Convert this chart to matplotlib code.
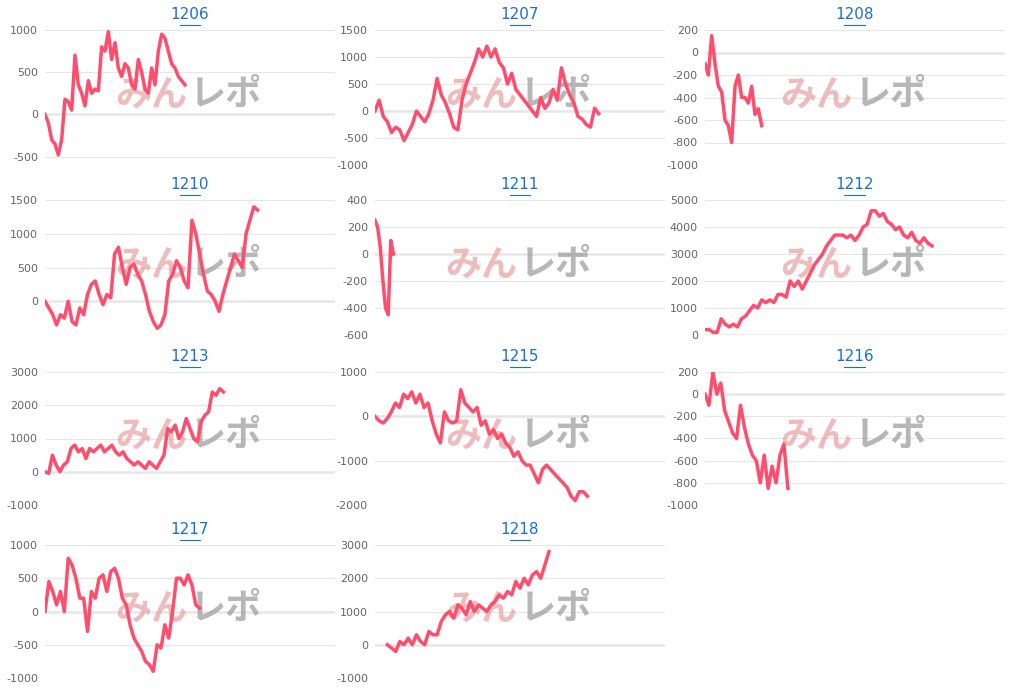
import matplotlib
matplotlib.use("Agg")
import matplotlib.pyplot as plt

plt.rcParams["axes.unicode_minus"] = False

# ==========================================================
# Data
# ==========================================================

titles = ["1206", "1207", "1208", "1210", "1211", "1212",
          "1213", "1215", "1216", "1217", "1218"]

s1206 = [0, -100, -300, -350, -480, -300, 180, 150, 50, 700, 350, 250, 100, 400, 250, 300, 280,
         800, 750, 980, 650, 850, 550, 450, 600, 550, 350, 300, 650, 500, 300, 250, 550, 350,
         750, 950, 900, 750, 600, 550, 450, 400, 350]
s1207 = [0, 200, -100, -200, -400, -300, -350, -550, -400, -250, 0, -100, -200, -50, 200, 600,
         300, 150, -50, -300, -350, 200, 500, 700, 900, 1150, 1000, 1200, 1000, 1150, 900, 800,
         500, 700, 400, 300, 200, 100, 0, -100, 250, 50, 150, 400, 200, 800, 500, 300, 150, -100,
         -150, -250, -300, 50, -50]
s1208 = [-100, -200, 150, -100, -300, -350, -600, -650, -800, -300, -200, -400, -400, -450,
         -300, -550, -500, -650]
s1210 = [0, -100, -200, -350, -200, -250, 0, -300, -350, -100, -200, 100, 250, 300, 100, -50,
         100, 50, 700, 800, 500, 250, 500, 550, 400, 300, 100, -150, -300, -400, -350, -200, 300,
         400, 600, 500, 300, 200, 1200, 1000, 700, 400, 150, 100, 0, -150, 100, 300, 500, 700,
         600, 500, 1000, 1200, 1400, 1350]
s1211 = [250, 200, 50, -200, -400, -450, 100, 0]
s1212 = [200, 200, 100, 100, 600, 400, 300, 400, 300, 600, 700, 900, 1100, 1000, 1300, 1200,
         1300, 1200, 1500, 1500, 1400, 2000, 1800, 2000, 1700, 2000, 2300, 2600, 2800, 3000, 3300,
         3500, 3700, 3700, 3700, 3600, 3700, 3500, 3700, 4000, 4100, 4600, 4600, 4400, 4500, 4200,
         4100, 3900, 4000, 3700, 3600, 3800, 3500, 3400, 3600, 3400, 3300]
s1213 = [0, -50, 500, 200, 0, 200, 300, 700, 800, 600, 700, 400, 700, 600, 700, 800, 600, 700,
         800, 600, 500, 600, 400, 300, 200, 300, 200, 100, 300, 200, 100, 300, 500, 1300, 1200,
         1400, 1000, 1200, 1600, 1300, 1000, 900, 1500, 1700, 1800, 2400, 2300, 2500, 2400]
s1215 = [0, -100, -150, -50, 100, 300, 200, 500, 400, 550, 300, 500, 200, 300, -100, -400, -600,
         100, -100, -150, -100, 600, 300, 200, 100, 200, -200, -100, -400, -300, -500, -400, -600,
         -700, -900, -800, -1000, -1100, -1100, -1300, -1500, -1200, -1100, -1200, -1300, -1400,
         -1500, -1600, -1800, -1900, -1700, -1700, -1800]
s1216 = [0, -100, 200, 0, 100, -150, -250, -350, -400, -100, -300, -450, -550, -600, -800, -550,
         -850, -650, -800, -550, -450, -850]
s1217 = [0, 450, 300, 100, 300, 0, 800, 700, 500, 200, 200, -300, 300, 200, 500, 550, 300, 600,
         650, 500, 200, 100, -200, -400, -500, -600, -750, -800, -900, -500, -550, -200, -400, 0,
         500, 500, 400, 550, 400, 100, 50]
s1218 = [0, -100, -200, 100, 0, 200, 0, 300, 100, 0, 400, 300, 300, 700, 900, 1000, 800, 1200,
         1100, 900, 1300, 1000, 1200, 1100, 1000, 1200, 1300, 1500, 1400, 1600, 1500, 1900, 1700,
         2000, 1800, 2100, 2200, 2000, 2400, 2800]

series = [s1206, s1207, s1208, s1210, s1211, s1212, s1213, s1215, s1216, s1217, s1218]

# y tick ranges (bottom, top, step) per panel
yticks = [(-500, 1000, 500), (-1000, 1500, 500), (-1000, 200, 200), (0, 1500, 500),
          (-600, 400, 200), (0, 5000, 1000), (-1000, 3000, 1000), (-2000, 1000, 1000),
          (-1000, 200, 200), (-1000, 1000, 500), (-1000, 3000, 1000)]
ylims = [(-600, 1000), (-1000, 1500), (-1000, 200), (-500, 1500), (-600, 400), (0, 5000),
         (-1000, 3000), (-2000, 1000), (-1000, 200), (-1000, 1000), (-1000, 3000)]
xlims = [87, 70, 90, 75, 110, 74, 78, 71, 76, 75, 70]
xstart = [0, 0, 0, 0, 0, 0, 0, 0, 0, 0, 3]

# ==========================================================
# Layout (pixel boxes of the reference)
# ==========================================================

W, H = 1012, 688
cols = [(45, 335), (375, 665), (705, 1005)]
rows = [(30, 165), (200, 335), (372, 505), (545, 678)]

fig = plt.figure(figsize=(W / 100, H / 100), dpi=100)

line_color = "#ff4d6d"
jp = ["Noto Sans CJK JP", "DejaVu Sans"]

for i, vals in enumerate(series):
    r, c = divmod(i, 3)
    x0, x1 = cols[c]
    y0, y1 = rows[r]
    ax = fig.add_axes([x0 / W, 1 - y1 / H, (x1 - x0) / W, (y1 - y0) / H])

    xs = [xstart[i] + k for k in range(len(vals))]
    ax.plot(xs, vals, color=line_color, lw=2.5, zorder=3)

    lo, hi, st = yticks[i]
    ax.set_yticks(range(lo, hi + 1, st))
    ax.set_ylim(*ylims[i])
    ax.set_xlim(0, xlims[i])
    ax.set_xticks([])

    ax.grid(axis="y", color="#e6e6e6", lw=0.8, zorder=0)
    ax.axhline(0, color="#aaaaaa", lw=1, zorder=1)
    for sp in ax.spines.values():
        sp.set_visible(False)
    ax.tick_params(axis="y", length=0, labelsize=8, labelcolor="#666666", pad=5)

    # underlined link-style title
    ax.set_title(titles[i], color="#1a6fd0", fontsize=11, pad=8)
    ax.plot([0.465, 0.535], [1.035, 1.035], transform=ax.transAxes, color="#1a6fd0",
            lw=0.8, clip_on=False)

    # watermark
    ax.text(0.49, 0.52, "みん", transform=ax.transAxes, fontsize=26, fontweight="bold",
            style="italic", color="#e8a0a0", alpha=0.7, ha="right", va="center",
            family=jp, zorder=2)
    ax.text(0.50, 0.52, "レポ", transform=ax.transAxes, fontsize=26, fontweight="bold",
            style="italic", color="#999999", alpha=0.7, ha="left", va="center",
            family=jp, zorder=2)

plt.savefig("out.png", dpi=100)
